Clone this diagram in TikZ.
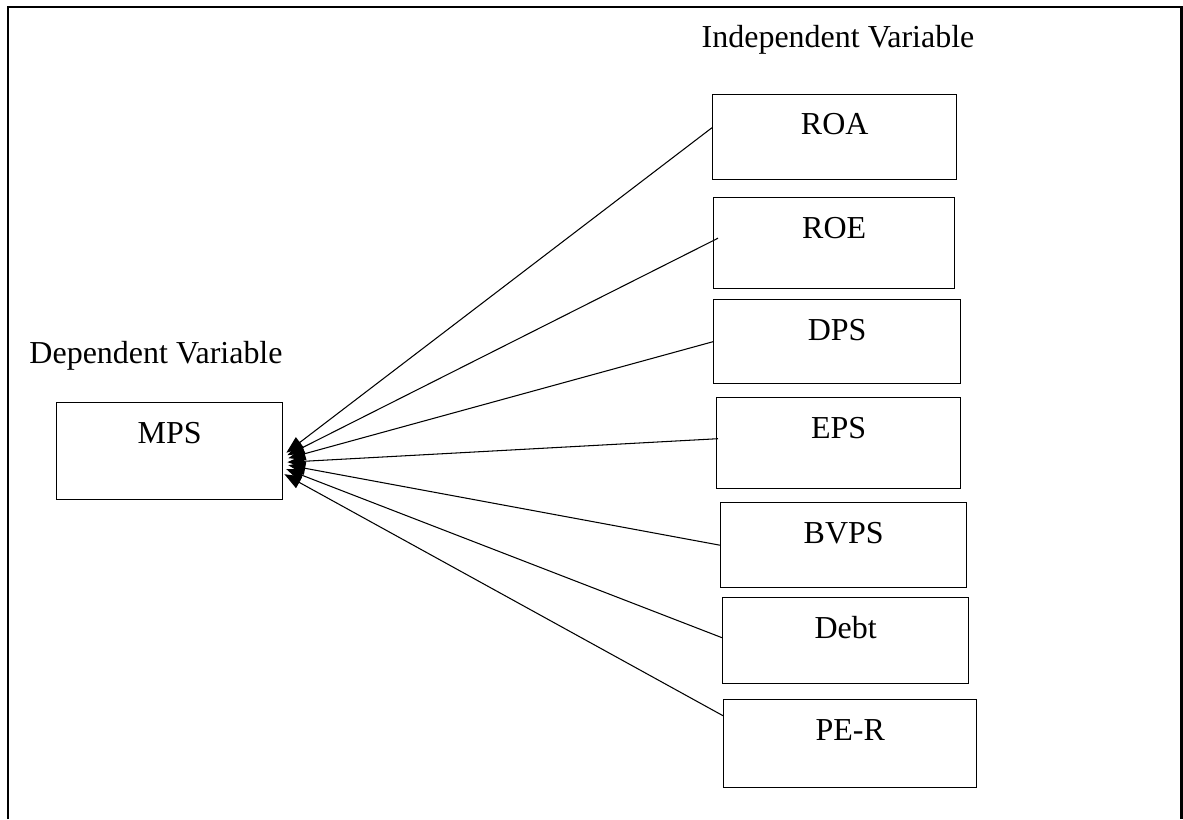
\documentclass[tikz,border=0pt]{standalone}
\usepackage{fontspec}
\setmainfont{Liberation Serif}
\usetikzlibrary{arrows.meta, positioning}

\tikzset{
  varbox/.style={draw, line width=0.8pt, rectangle, anchor=north west, inner sep=0pt,
    label={[anchor=base, yshift=-0.82cm]north:#1}},
  link/.style={line width=0.6pt, -{Triangle[length=0.34cm, width=0.26cm]}},
}

\begin{document}
\begin{tikzpicture}[x=0.02cm, y=-0.02cm, font=\fontsize{18.2}{21.5}\selectfont]
\useasboundingbox (0,0) rectangle (1183,819);
% outer frame, open at the bottom
\draw[line width=1.7pt] (8,819) -- (8,7) -- (1181,7) -- (1181,819);

% headings
\node[anchor=base] (indep) at (838,47) {Independent Variable};
\node[anchor=base] (dep) at (156,363) {Dependent Variable};

% dependent variable
\node[varbox=MPS, minimum width=4.52cm, minimum height=1.94cm] (mps) at (56,402) {};

% independent variables
\node[varbox=ROA, minimum width=4.88cm, minimum height=1.70cm] (roa) at (712,94) {};
\node[varbox=ROE, minimum width=4.82cm, minimum height=1.82cm] (roe) at (713,197) {};
\node[varbox=DPS, minimum width=4.94cm, minimum height=1.68cm] (dps) at (713,299) {};
\node[varbox=EPS, minimum width=4.88cm, minimum height=1.82cm] (eps) at (716,397) {};
\node[varbox=BVPS, minimum width=4.92cm, minimum height=1.70cm] (bvps) at (720,502) {};
\node[varbox=Debt, minimum width=4.92cm, minimum height=1.72cm] (debt) at (722,597) {};
\node[varbox=PE-R, minimum width=5.06cm, minimum height=1.76cm] (per) at (723,699) {};

% links into MPS
\draw[link] ([yshift=0.19cm]roa.west) -- ([xshift=0.06cm, yshift=-0.03cm]mps.east);
\draw[link] ([xshift=0.1cm, yshift=0.1cm]roe.west) -- ([xshift=0.08cm, yshift=-0.08cm]mps.east);
\draw[link] (dps.west) -- ([xshift=0.1cm, yshift=-0.14cm]mps.east);
\draw[link] ([xshift=0.04cm, yshift=0.09cm]eps.west) -- ([xshift=0.08cm, yshift=-0.22cm]mps.east);
\draw[link] (bvps.west) -- ([xshift=0.1cm, yshift=-0.28cm]mps.east);
\draw[link] ([yshift=0.06cm]debt.west) -- ([xshift=0.06cm, yshift=-0.36cm]mps.east);
\draw[link] ([yshift=0.56cm]per.west) -- ([xshift=0.02cm, yshift=-0.46cm]mps.east);
\end{tikzpicture}
\end{document}
